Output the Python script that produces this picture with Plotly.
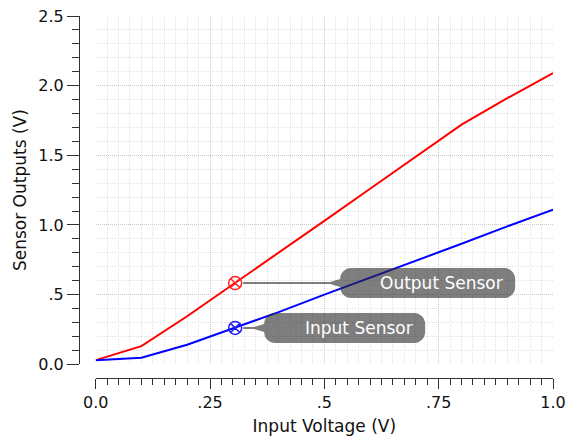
import plotly.graph_objects as go

# Sweep of the input voltage and the two measured sensor outputs
input_voltage = [0.0, 0.1, 0.2, 0.3, 0.4, 0.5, 0.6, 0.7, 0.8, 0.9, 1.0]
output_sensor = [0.03, 0.13, 0.345, 0.572, 0.80, 1.03, 1.26, 1.49, 1.72, 1.91, 2.09]
input_sensor = [0.03, 0.047, 0.14, 0.255, 0.375, 0.50, 0.62, 0.745, 0.865, 0.99, 1.11]

# Probe point where the callouts are attached
probe_x = [0.305]
probe_output = [0.583]
probe_input = [0.261]
callout_labels = ["Output Sensor", "Input Sensor"]

x_tickvals = [0.0, 0.25, 0.5, 0.75, 1.0]
x_ticktext = ["0.0", ".25", ".5", ".75", "1.0"]
y_tickvals = [0.0, 0.5, 1.0, 1.5, 2.0, 2.5]
y_ticktext = ["0.0", ".5", "1.0", "1.5", "2.0", "2.5"]

FONT = "DejaVu Sans"
AXIS_COLOR = "#333333"

fig = go.Figure()
fig.add_trace(go.Scatter(x=input_voltage, y=output_sensor, mode="lines",
                         line=dict(color="#ff0000", width=2), showlegend=False))
fig.add_trace(go.Scatter(x=input_voltage, y=input_sensor, mode="lines",
                         line=dict(color="#0000ff", width=2), showlegend=False))
fig.add_trace(go.Scatter(x=probe_x, y=probe_output, mode="markers",
                         marker=dict(symbol="circle-x-open", size=13, color="#ff2020",
                                     line=dict(color="#ff2020", width=1.5)),
                         showlegend=False))
fig.add_trace(go.Scatter(x=probe_x, y=probe_input, mode="markers",
                         marker=dict(symbol="circle-x-open", size=13, color="#2020ff",
                                     line=dict(color="#2020ff", width=1.5)),
                         showlegend=False))


def callout_path(x_line, x_box, x_right, half_h, radius, wedge_h, line_h, wedge_len):
    """Rounded label box with a thin leader that widens into a wedge (pixel units)."""
    k = 0.552 * radius
    x_wedge = x_box - wedge_len
    p = [
        f"M{x_line},{line_h}",
        f"L{x_wedge},{line_h}",
        f"L{x_box},{wedge_h}",
        f"L{x_box},{half_h - radius}",
        f"C{x_box},{half_h - radius + k} {x_box + radius - k},{half_h} {x_box + radius},{half_h}",
        f"L{x_right - radius},{half_h}",
        f"C{x_right - radius + k},{half_h} {x_right},{half_h - radius + k} {x_right},{half_h - radius}",
        f"L{x_right},{-(half_h - radius)}",
        f"C{x_right},{-(half_h - radius) - k} {x_right - radius + k},{-half_h} {x_right - radius},{-half_h}",
        f"L{x_box + radius},{-half_h}",
        f"C{x_box + radius - k},{-half_h} {x_box},{-(half_h - radius) - k} {x_box},{-(half_h - radius)}",
        f"L{x_box},{-wedge_h}",
        f"L{x_wedge},{-line_h}",
        f"L{x_line},{-line_h}",
        "Z",
    ]
    return " ".join(p)


callouts = [
    # (anchor y, box left offset, box right offset)
    (probe_output[0], 105, 280),
    (probe_input[0], 29, 190),
]
shapes = []
annotations = []
for (py, x_box, x_right), label in zip(callouts, callout_labels):
    shapes.append(dict(
        type="path", xref="x", yref="y",
        xsizemode="pixel", ysizemode="pixel",
        xanchor=probe_x[0], yanchor=py,
        path=callout_path(8, x_box, x_right, 15, 11, 4, 1, 10),
        fillcolor="rgba(40,40,40,0.6)", line=dict(width=0), layer="above",
    ))
    annotations.append(dict(
        x=probe_x[0], y=py, xref="x", yref="y", text=label,
        showarrow=False, xanchor="right", yanchor="middle",
        xshift=x_right - 10, yshift=0,
        font=dict(family=FONT, size=17, color="white"),
    ))

grid_minor = dict(showgrid=True, gridcolor="#e2e2e2", griddash="1px,1px", gridwidth=1,
                  ticks="outside", tickcolor=AXIS_COLOR, tickwidth=1)

fig.update_layout(
    width=567, height=441,
    margin=dict(l=79, r=14, t=16, b=63, autoexpand=False),
    paper_bgcolor="white", plot_bgcolor="white",
    font=dict(family=FONT, color="#111111"),
    shapes=shapes, annotations=annotations,
    xaxis=dict(
        range=[0, 1], domain=[0.0352, 1], anchor="free", position=0, automargin=False,
        tickmode="array", tickvals=x_tickvals, ticktext=x_ticktext,
        ticks="outside", ticklen=10, tickwidth=1, tickcolor=AXIS_COLOR,
        showline=True, linecolor=AXIS_COLOR, linewidth=1,
        showgrid=True, gridcolor="#cbcbcb", griddash="1px,1px", gridwidth=1,
        zeroline=False, tickfont=dict(size=16, family=FONT),
        minor=dict(tickmode="linear", tick0=0, dtick=0.025, ticklen=6, **grid_minor),
        title=dict(text="Input Voltage (V)", font=dict(size=17, family=FONT), standoff=8),
    ),
    yaxis=dict(
        range=[0, 2.5], domain=[0.0378, 1], anchor="free", position=0, automargin=False,
        tickmode="array", tickvals=y_tickvals, ticktext=y_ticktext,
        ticks="outside", ticklen=12, tickwidth=1, tickcolor=AXIS_COLOR,
        showline=True, linecolor=AXIS_COLOR, linewidth=1,
        showgrid=True, gridcolor="#cbcbcb", griddash="1px,1px", gridwidth=1,
        zeroline=False, tickfont=dict(size=16, family=FONT),
        minor=dict(tickmode="linear", tick0=0, dtick=0.1, ticklen=7, **grid_minor),
        title=dict(text="Sensor Outputs (V)", font=dict(size=17, family=FONT), standoff=6),
    ),
)

fig.write_html("out.html")
